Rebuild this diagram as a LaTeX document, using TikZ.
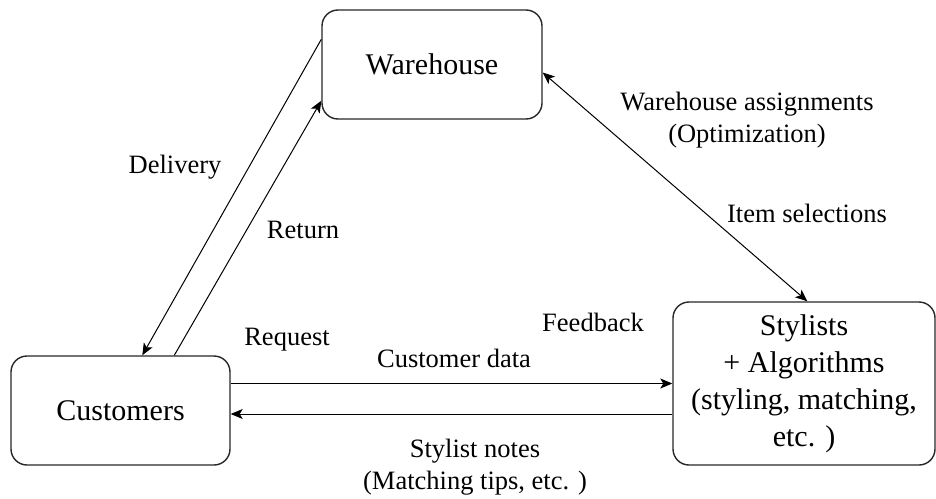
\documentclass[tikz,border=0pt]{standalone}
\usepackage{fontspec}
\setmainfont{Liberation Serif}
\usetikzlibrary{arrows.meta}
\begin{document}
\begin{tikzpicture}[x=0.5pt,y=-0.5pt,%
        >={Stealth[length=6pt,width=5pt,inset=1.5pt]},%
        box/.style={draw=black!85,line width=0.7pt,rounded corners=8pt,
          inner sep=0pt,font=\fontsize{15}{18.5}\selectfont,align=center},%
        lbl/.style={font=\fontsize{13.25}{16}\selectfont,align=center,inner sep=0pt},%
        link/.style={line width=0.5pt,->}]%
        \useasboundingbox (0,0) rectangle (936,498);
        \node[box,minimum width=110pt,minimum height=54.5pt] (wh) at (432,64.5)
        {Warehouse}; \node[box,minimum width=109.5pt,minimum height=54.5pt] (cu)
        at (120.5,410.5) {Customers}; \node[box,minimum width=131pt,minimum
        height=81.5pt] (st) at (804,383.5) {Stylists\\+ Algorithms\\(styling,
        matching,\\etc. )};
        % arrows
        \draw[link] ([yshift=-15pt]wh.north west) -- ([xshift=66pt]cu.north west);
        \draw[link] ([xshift=82pt]cu.north west) -- ([yshift=9.5pt]wh.south west);
        \draw[link,<->] ([yshift=-4pt]wh.east) -- ([xshift=67.5pt]st.north west);
        \draw[link] (cu.east |- st.west) -- (st.west);
        \draw[link] ([yshift=-1.75pt]st.west |- cu.east) -- ([yshift=-1.75pt]cu.east);
        % labels
        \node[lbl] (ldel) at (175,167) {Delivery}; \node[lbl] (lret) at
        (303,230) {Return}; \node[lbl] (lreq) at (287,340) {Request};
        \node[lbl] (lfb) at (593,322) {Feedback}; \node[lbl] (lcd) at
        (454,358) {Customer data}; \node[lbl] (lsn) at (475,467) {Stylist
        notes\\(Matching tips, etc. )}; \node[lbl] (lwa) at (747,120)
        {Warehouse assignments\\(Optimization)}; \node[lbl] (lis) at
        (807,213) {Item selections};
      \end{tikzpicture}
\end{document}
